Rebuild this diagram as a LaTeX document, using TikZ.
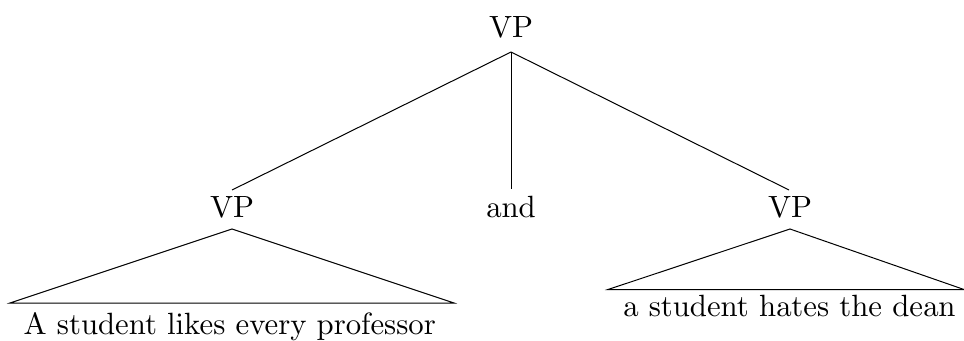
\documentclass[tikz,border=0pt]{standalone}
\font\treefont=cmr10 at 12.3pt
\begin{document}
\begin{tikzpicture}[x=0.4pt,y=-0.4pt,
  lbl/.style={anchor=base,inner sep=0pt,font=\treefont},
  edge/.style={draw=black,line width=0.4pt}]
\useasboundingbox (0,0) rectangle (964,340);
% labels
\node[lbl] (top) at (511,37) {VP};
\node[lbl] (vpL) at (232,217) {VP};
\node[lbl] (and) at (511,217) {and};
\node[lbl] (vpR) at (790,217) {VP};
\node[lbl] (txtL) at (230,334) {A student likes every professor};
\node[lbl] (txtR) at (789.5,316) {a student hates the dean};
% connector ends
\coordinate (topS) at (511,52);
\coordinate (vpLn) at (232,190);
\coordinate (andn) at (511,189);
\coordinate (vpRn) at (789,190);
\coordinate (apexL) at (232,229);
\coordinate (baseLa) at (10,303);
\coordinate (baseLb) at (454,303);
\coordinate (apexR) at (790,229);
\coordinate (baseRa) at (608,289.5);
\coordinate (baseRb) at (964,289.5);
% branches
\draw[edge] (topS) -- (vpLn);
\draw[edge] (topS) -- (andn);
\draw[edge] (topS) -- (vpRn);
% triangles
\draw[edge] (baseLa) -- (apexL) -- (baseLb) -- cycle;
\draw[edge] (baseRa) -- (apexR) -- (baseRb) -- cycle;
\end{tikzpicture}
\end{document}
